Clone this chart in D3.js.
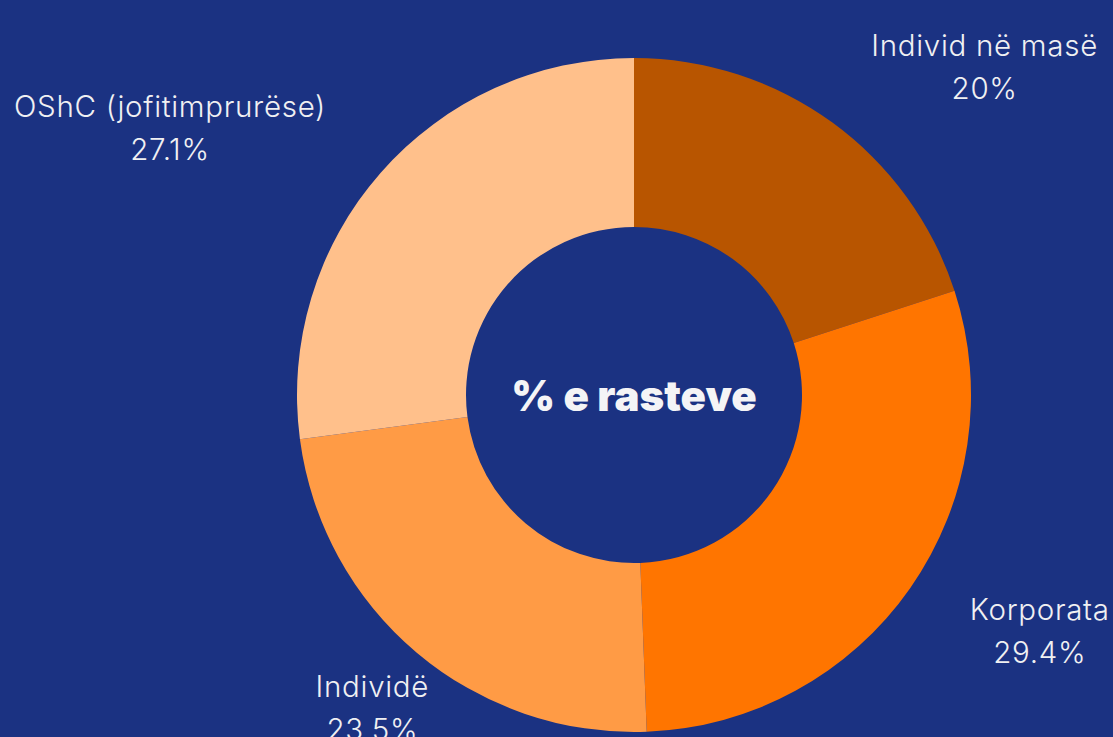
<!DOCTYPE html>
<html>
<head>
<meta charset="utf-8">
<script src="https://cdn.jsdelivr.net/npm/d3@7"></script>
<style>
  html, body { margin: 0; padding: 0; background: #1b3282; overflow: hidden; }
  #chart { width: 1113px; height: 737px; }
</style>
</head>
<body>
<div id="chart"></div>
<script>
// data
const categories = ["Individ në masë", "Korporata", "Individë", "OShC (jofitimprurëse)"];
const shares = [20, 29.4, 23.5, 27.1];
const shareLabels = ["20%", "29.4%", "23.5%", "27.1%"];
const colors = ["#b85500", "#ff7500", "#ff9b45", "#ffc08b"];

// label nudges away from the arc direction (px)
const labelNudge = [[92, 17], [45, -27], [22, -34], [-133, 12]];

const width = 1113;
const height = 737;
const cx = 634, cy = 395;
const outerR = 337, innerR = 168;

const data = categories.map((c, i) => ({ name: c, value: shares[i], label: shareLabels[i], color: colors[i] }));

const pie = d3.pie().sort(null).value(d => d.value);
const arc = d3.arc().outerRadius(outerR).innerRadius(innerR);
const labelArc = d3.arc().outerRadius(440).innerRadius(440);

const svg = d3.select("#chart")
  .append("svg")
  .attr("width", width)
  .attr("height", height);

const g = svg.append("g").attr("transform", `translate(${cx},${cy})`);

const arcs = pie(data);

g.selectAll(".slice")
  .data(arcs)
  .enter()
  .append("path")
  .attr("class", "slice")
  .attr("d", arc)
  .style("fill", d => d.data.color);

// labels
const lab = g.selectAll(".lab")
  .data(arcs)
  .enter()
  .append("text")
  .attr("class", "lab")
  .attr("transform", (d, i) => {
    const [x, y] = labelArc.centroid(d);
    return `translate(${x + labelNudge[i][0]},${y + labelNudge[i][1]})`;
  })
  .attr("text-anchor", "middle")
  .style("font-family", "Inter, 'Open Sans', sans-serif")
  .style("font-weight", 300)
  .style("font-size", "29.5px")
  .style("letter-spacing", "0.7px")
  .style("fill", "#f0f0f2");

lab.append("tspan").attr("x", 0).attr("y", 0).text(d => d.data.name);
lab.append("tspan").attr("x", 0).attr("y", 43).text(d => d.data.label);

// centre title
g.append("text")
  .attr("text-anchor", "middle")
  .attr("y", 16)
  .style("font-family", "Inter, Lato, sans-serif")
  .style("font-weight", 900)
  .style("font-size", "42px")
  .style("fill", "#f4f4f6")
  .text("% e rasteve");
</script>
</body>
</html>
